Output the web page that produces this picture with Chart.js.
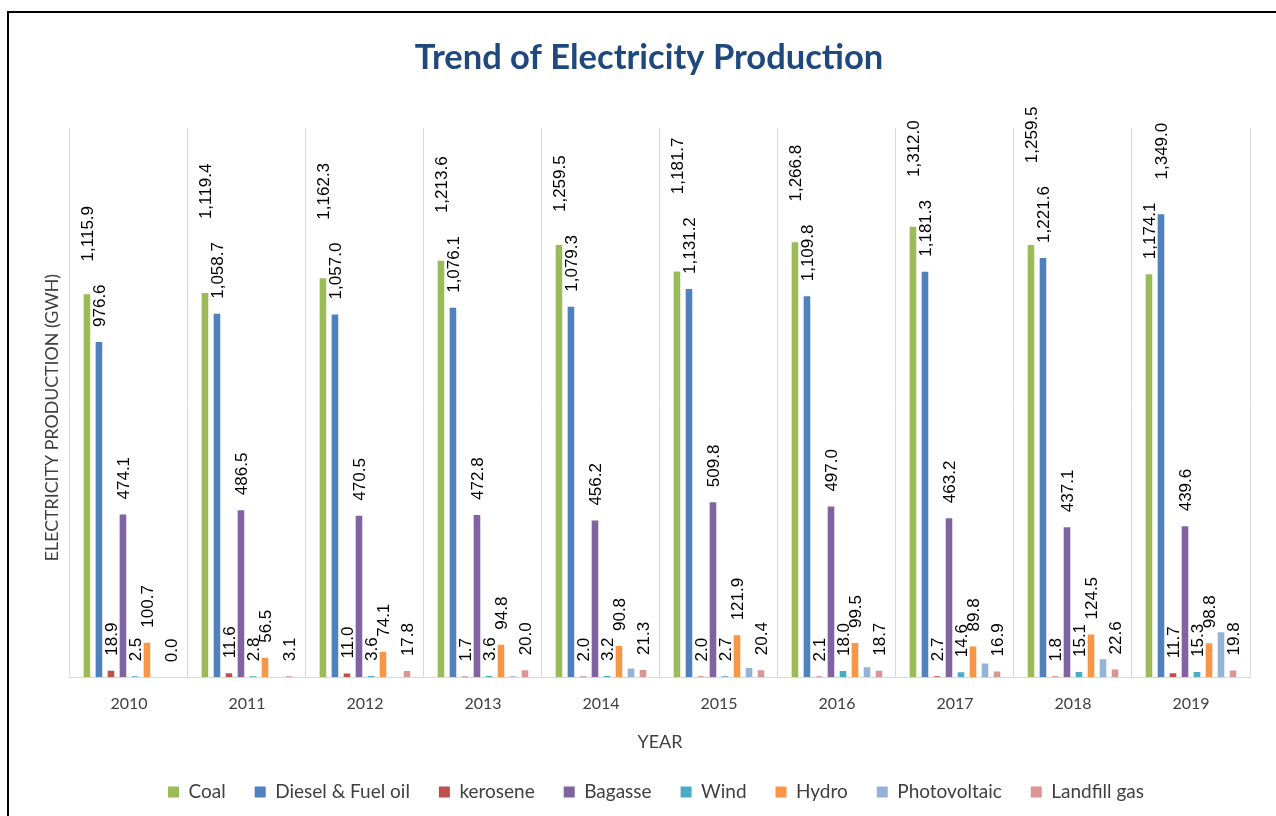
<!DOCTYPE html>
<html>
<head>
<meta charset="utf-8">
<script src="https://cdn.jsdelivr.net/npm/chart.js@4.4.1/dist/chart.umd.min.js"></script>
<style>
  html, body { margin: 0; padding: 0; background: #fff; }
  #wrap { position: relative; width: 1276px; height: 816px; overflow: hidden; }
  #frame { position: absolute; left: 7px; top: 11px; width: 1400px; height: 900px;
           border-left: 2px solid #000; border-top: 2px solid #000; pointer-events: none; }
  canvas { position: absolute; left: 0; top: 0; }
</style>
</head>
<body>
<div id="wrap">
  <canvas id="c" width="1276" height="816"></canvas>
  <div id="frame"></div>
</div>
<script>
const years = ['2010','2011','2012','2013','2014','2015','2016','2017','2018','2019'];
const coal        = [1115.9, 1119.4, 1162.3, 1213.6, 1259.5, 1181.7, 1266.8, 1312.0, 1259.5, 1174.1];
const diesel      = [976.6, 1058.7, 1057.0, 1076.1, 1079.3, 1131.2, 1109.8, 1181.3, 1221.6, 1349.0];
const kerosene    = [18.9, 11.6, 11.0, 1.7, 2.0, 2.0, 2.1, 2.7, 1.8, 11.7];
const bagasse     = [474.1, 486.5, 470.5, 472.8, 456.2, 509.8, 497.0, 463.2, 437.1, 439.6];
const wind        = [2.5, 2.8, 3.6, 3.6, 3.2, 2.7, 18.0, 14.6, 15.1, 15.3];
const hydro       = [100.7, 56.5, 74.1, 94.8, 90.8, 121.9, 99.5, 89.8, 124.5, 98.8];
const photovoltaic= [0, 0, 0, 3, 25, 27, 29, 40, 52, 131];
const landfill    = [0.0, 3.1, 17.8, 20.0, 21.3, 20.4, 18.7, 16.9, 22.6, 19.8];

const seriesNames = ['Coal','Diesel & Fuel oil','kerosene','Bagasse','Wind','Hydro','Photovoltaic','Landfill gas'];
const seriesData  = [coal, diesel, kerosene, bagasse, wind, hydro, photovoltaic, landfill];
const seriesColors= ['#9BBB59','#4F81BD','#C0504D','#8064A2','#4BACC6','#F79646','#95B3D7','#D99694'];
const labelledSeries = [true, true, true, true, true, true, false, true];

const LABEL_FONT = '17px "Liberation Sans", Arial, sans-serif';
const fmt = v => v.toLocaleString('en-US', {minimumFractionDigits: 1, maximumFractionDigits: 1});

const labelPlugin = {
  id: 'rotLabels',
  afterDatasetsDraw(chart) {
    const ctx = chart.ctx;
    ctx.save();
    ctx.font = LABEL_FONT;
    ctx.fillStyle = '#000';
    ctx.textAlign = 'left';
    ctx.textBaseline = 'middle';
    const gap = 15, sepMin = 23;
    const n = years.length;
    for (let i = 0; i < n; i++) {
      const items = [];
      chart.data.datasets.forEach((ds, di) => {
        if (!labelledSeries[di]) return;
        const el = chart.getDatasetMeta(di).data[i];
        const txt = fmt(ds.data[i]);
        const w = ctx.measureText(txt).width;
        items[di] = {x: el.x, bottom: el.y - gap, w, txt, v: ds.data[i]};
      });
      // keep the two tallest series' labels (coal / diesel) apart
      const a = items[0], b = items[1];
      const sep = Math.max((a.bottom - a.w) - b.bottom, (b.bottom - b.w) - a.bottom);
      if (sep < sepMin) {
        if (a.v >= b.v) a.bottom = b.bottom - b.w - sepMin;
        else b.bottom = a.bottom - a.w - sepMin;
      }
      items.forEach(it => {
        if (!it) return;
        ctx.save();
        ctx.translate(it.x + 1, it.bottom);
        ctx.rotate(-Math.PI / 2);
        ctx.fillText(it.txt, 0, 0);
        ctx.restore();
      });
    }
    ctx.restore();
  }
};

const layoutTweaks = {
  id: 'layoutTweaks',
  afterLayout(chart) {
    if (chart.legend) { chart.legend.left += 7; chart.legend.right += 7; }
    const ys = chart.scales.y;
    if (ys && !ys._titleShifted) {
      const orig = ys.drawTitle.bind(ys);
      ys.drawTitle = function () {
        const ctx = this.ctx;
        ctx.save();
        ctx.translate(0, 15);
        orig();
        ctx.restore();
      };
      ys._titleShifted = true;
    }
  }
};

new Chart(document.getElementById('c'), {
  type: 'bar',
  data: {
    labels: years,
    datasets: seriesNames.map((name, i) => ({
      label: name,
      data: seriesData[i],
      backgroundColor: seriesColors[i],
      borderWidth: 0,
      categoryPercentage: 0.814,
      barPercentage: 0.55
    }))
  },
  options: {
    responsive: false,
    animation: false,
    layout: { padding: { left: 22, right: 0, top: 0, bottom: 4.5 } },
    plugins: {
      title: {
        display: true,
        text: 'Trend of Electricity Production',
        color: '#1F497D',
        font: { family: 'Lato', size: 34.5, weight: 'bold', lineHeight: 1.2 },
        padding: { top: 37.3, bottom: 49.3 }
      },
      legend: {
        position: 'bottom',
        labels: {
          boxWidth: 11, boxHeight: 11, padding: 29,
          color: '#404040',
          font: { family: 'Lato', size: 19 }
        }
      },
      tooltip: { enabled: false }
    },
    scales: {
      x: {
        grid: { color: '#D9D9D9', lineWidth: 1, drawTicks: false, offset: true },
        border: { color: '#D9D9D9', width: 1 },
        ticks: { color: '#404040', font: { family: 'Lato', size: 16 }, padding: 17.4 },
        title: { display: true, text: 'YEAR', color: '#404040',
                 font: { family: 'Lato', size: 18, lineHeight: 1.2 },
                 padding: { top: 0, bottom: 0.7 } }
      },
      y: {
        min: 0, max: 1600,
        grid: { display: false, drawTicks: false },
        border: { display: false },
        ticks: { display: false },
        title: { display: true, text: 'ELECTRICITY PRODUCTION (GWH)', color: '#404040',
                 font: { family: 'Lato', size: 17.8, lineHeight: 1.2 },
                 padding: { top: 19.3, bottom: 7.3 } }
      },
      yR: {
        type: 'linear',
        position: 'right',
        display: true,
        grid: { display: false, drawTicks: false },
        border: { display: false },
        ticks: { display: false },
        afterFit(scale) { scale.width = 26; }
      }
    }
  },
  plugins: [labelPlugin, layoutTweaks]
});
</script>
</body>
</html>
